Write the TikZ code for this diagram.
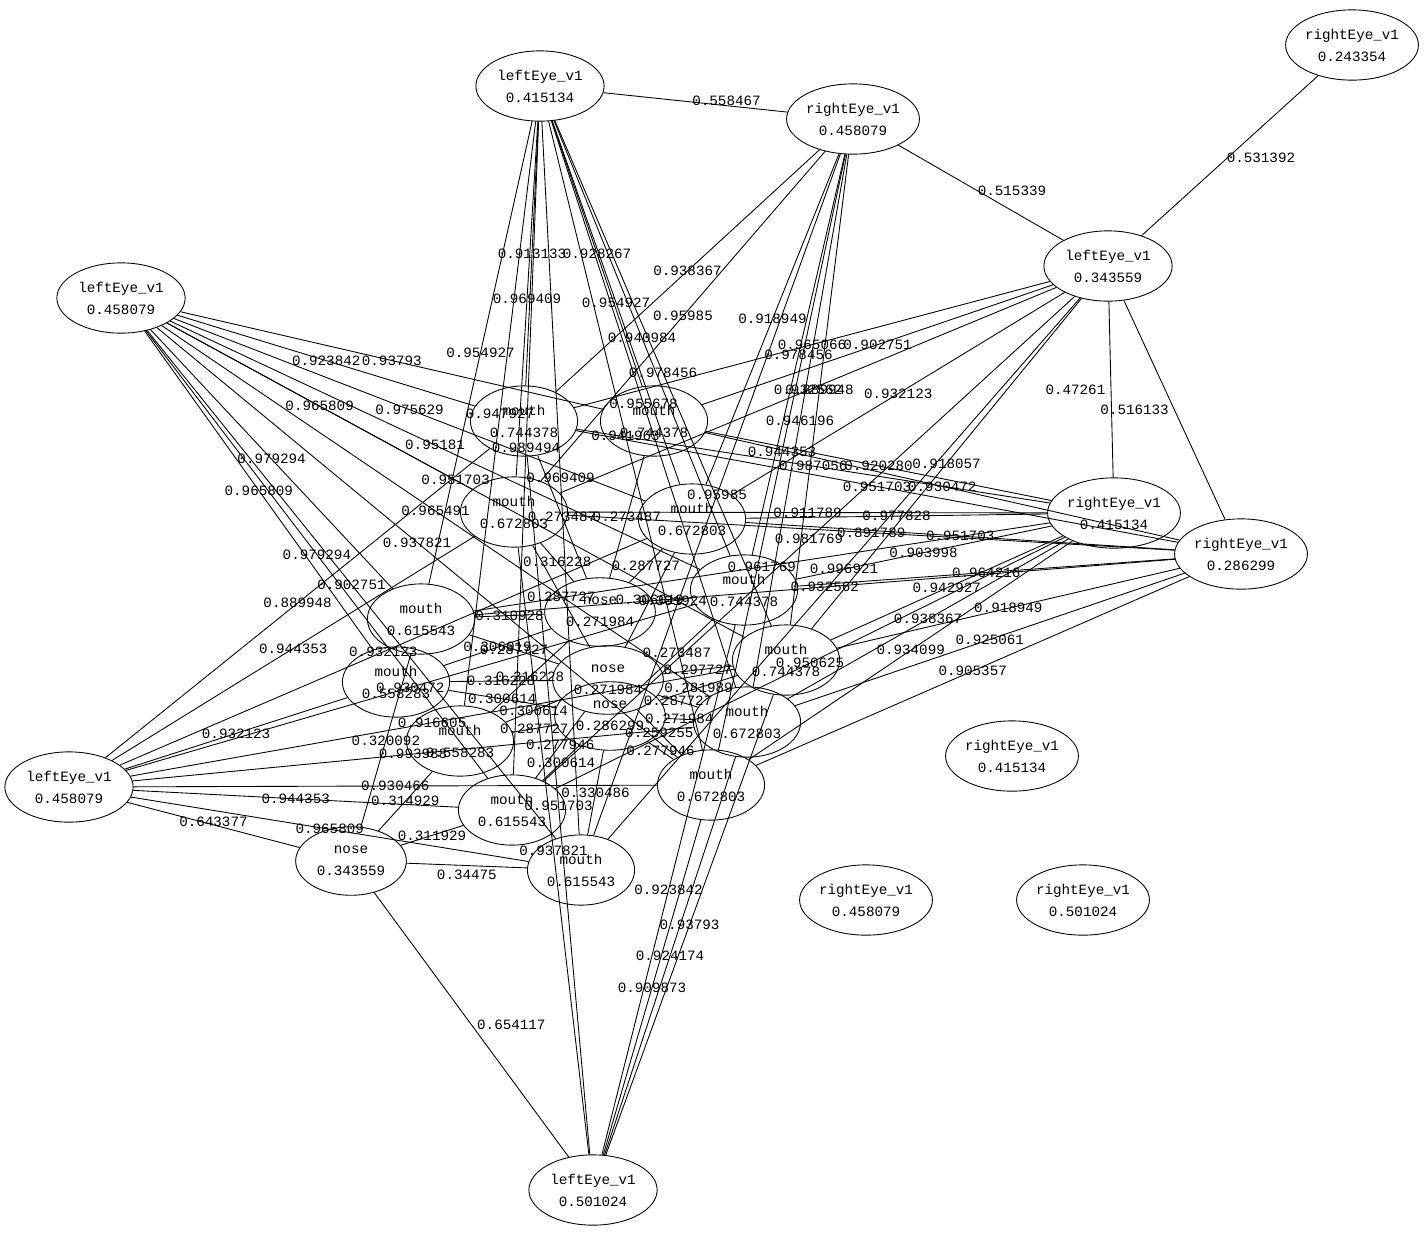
\documentclass[tikz,border=0pt]{standalone}
\usepackage{fontspec}
\setmonofont{Liberation Mono}
\usetikzlibrary{shapes.geometric}
\tikzset{
  txt/.style={font=\ttfamily\fontsize{8.1}{12.5}\selectfont},
  eye/.style={txt, ellipse, draw, align=center, inner sep=0pt, minimum width=73pt, minimum height=40pt},
  mth/.style={txt, ellipse, draw, align=center, inner sep=0pt, minimum width=61pt, minimum height=40pt},
  nse/.style={txt, ellipse, draw, align=center, inner sep=0pt, minimum width=63pt, minimum height=39pt},
  wt/.style={txt, inner sep=1pt},
  edge/.style={line width=0.5pt}
}
\begin{document}
\begin{tikzpicture}[x=0.02cm, y=-0.02cm, every path/.style={edge}]
\useasboundingbox (0,0) rectangle (1425,1232);
% eyes
\node[eye] (le1) at (540,86) {leftEye\_v1\\0.415134};
\node[eye] (re1) at (853,119) {rightEye\_v1\\0.458079};
\node[eye] (re2) at (1352,45) {rightEye\_v1\\0.243354};
\node[eye] (le2) at (1108,266) {leftEye\_v1\\0.343559};
\node[eye] (le3) at (121,298) {leftEye\_v1\\0.458079};
\node[eye] (re3) at (1114,513) {rightEye\_v1\\0.415134};
\node[eye] (re4) at (1241,554) {rightEye\_v1\\0.286299};
\node[eye] (le4) at (69,787) {leftEye\_v1\\0.458079};
\node[eye] (re5) at (1012,756) {rightEye\_v1\\0.415134};
\node[eye] (re6) at (866,900) {rightEye\_v1\\0.458079};
\node[eye] (re7) at (1083,900) {rightEye\_v1\\0.501024};
\node[eye] (le5) at (593,1190) {leftEye\_v1\\0.501024};
% noses
\node[nse] (n1) at (351,861) {nose\\0.343559};
\node[nse] (n2) at (600,612) {nose\\0.271984};
\node[nse] (n3) at (608,680) {nose\\0.271984};
\node[nse] (n4) at (610,716) {nose\\0.286299};
% mouths
\node[mth] (m1) at (524,421) {mouth\\0.744378};
\node[mth] (m2) at (654,421) {mouth\\0.744378};
\node[mth] (m3) at (514,512) {mouth\\0.672803};
\node[mth] (m4) at (692,519) {mouth\\0.672803};
\node[mth] (m5) at (744,590) {mouth\\0.744378};
\node[mth] (m6) at (421,619) {mouth\\0.615543};
\node[mth] (m7) at (396,682) {mouth\\0.558283};
\node[mth] (m8) at (786,660) {mouth\\0.744378};
\node[mth] (m9) at (460,741) {mouth\\0.558283};
\node[mth] (m10) at (747,722) {mouth\\0.672803};
\node[mth] (m11) at (711,785) {mouth\\0.672803};
\node[mth] (m12) at (512,810) {mouth\\0.615543};
\node[mth] (m13) at (581,870) {mouth\\0.615543};

% eye to eye, eye to nose
\draw (le1) -- (re1) node[wt,midway,above right=-3pt]{0.558467};
\draw (re1) -- (le2) node[wt,midway,above right=-3pt]{0.515339};
\draw (re2) -- (le2) node[wt,midway,below right=-3pt]{0.531392};
\draw (le2) -- (re3) node[wt,midway,left=2pt]{0.47261};
\draw (le2) -- (re4) node[wt,midway,left=2pt]{0.516133};
\draw (le4) -- (n1) node[wt,midway,above=-2pt]{0.643377};
\draw (n1) -- (le5) node[wt,midway,right=2pt]{0.654117};
\draw (n1) -- (m13) node[wt,midway,below=1pt]{0.34475};

% leftEye 0.458079 (upper left)
\draw (le3) -- (m1) node[wt,midway]{0.923842};
\draw (le3) -- (m2) node[wt,midway]{0.93793};
\draw (le3) -- (m4) node[wt,midway]{0.975629};
\draw (le3) -- (m3) node[wt,midway]{0.965809};
\draw (le3) -- (m5) node[wt,midway]{0.95181};
\draw (le3) -- (m6) node[wt,midway]{0.979294};
\draw (le3) -- (m7) node[wt,midway]{0.965809};
\draw (le3) -- (m8) node[wt,midway]{0.951703};
\draw (le3) -- (m10) node[wt,midway]{0.965491};
\draw (le3) -- (m11) node[wt,midway]{0.937821};
\draw (le3) -- (m12) node[wt,midway]{0.979294};
\draw (le3) -- (m13) node[wt,midway]{0.902751};

% leftEye 0.458079 (lower left)
\draw (le4) -- (m1) node[wt,midway]{0.889948};
\draw (le4) -- (m3) node[wt,midway]{0.944353};
\draw (le4) -- (m4) node[wt,midway]{0.932123};
\draw (le4) -- (m7) node[wt,midway]{0.932123};
\draw (le4) -- (m12) node[wt,midway]{0.944353};
\draw (le4) -- (m13) node[wt,midway]{0.965809};
\draw (le4) -- (m11) node[wt,midway]{0.930466};
\draw (le4) -- (m10) node[wt,midway]{0.993988};
\draw (le4) -- (m8) node[wt,midway]{0.916605};
\draw (le4) -- (m5) node[wt,midway]{0.930472};

% leftEye 0.415134 (top)
\draw (le1) -- (m2) node[wt,midway]{0.928267};
\draw (le1) -- (m1) node[wt,midway]{0.913133};
\draw (le1) -- (m3) node[wt,midway]{0.969409};
\draw (le1) -- (m6) node[wt,midway]{0.954927};
\draw (le1) -- (m4) node[wt,midway]{0.954927};
\draw (le1) -- (m5) node[wt,midway]{0.940984};
\draw (le1) -- (m8) node[wt,midway]{0.978456};
\draw (le1) -- (m10) node[wt,midway]{0.955678};
\draw (le1) -- (m11) node[wt,midway]{0.941963};
\draw (le1) -- (m9) node[wt,midway]{0.947927};
\draw (le1) -- (m13) node[wt,midway]{0.969409};
\draw (le1) -- (m12) node[wt,midway]{0.989494};

% rightEye 0.458079 (top)
\draw (re1) -- (m1) node[wt,midway]{0.938367};
\draw (re1) -- (m3) node[wt,midway]{0.95985};
\draw (re1) -- (m4) node[wt,midway]{0.918949};
\draw (re1) -- (m5) node[wt,midway]{0.978456};
\draw (re1) -- (m8) node[wt,midway]{0.889948};
\draw (re1) -- (m10) node[wt,midway]{0.946196};
\draw (re1) -- (m11) node[wt,midway]{0.944353};
\draw (re1) -- (m13) node[wt,midway]{0.95985};

% leftEye 0.343559
\draw (le2) -- (m2) node[wt,midway]{0.902751};
\draw (le2) -- (m1) node[wt,midway]{0.965066};
\draw (le2) -- (m4) node[wt,midway]{0.932123};
\draw (le2) -- (m3) node[wt,midway]{0.932562};
\draw (le2) -- (m8) node[wt,midway]{0.918057};
\draw (le2) -- (m12) node[wt,midway]{0.981769};
\draw (le2) -- (m13) node[wt,midway]{0.996921};

% rightEye 0.415134
\draw (re3) -- (m1) node[wt,midway]{0.987056};
\draw (re3) -- (m2) node[wt,midway]{0.920280};
\draw (re3) -- (m3) node[wt,midway]{0.911789};
\draw (re3) -- (m6) node[wt,midway]{0.961769};
\draw (re3) -- (m4) node[wt,midway]{0.977828};
\draw (re3) -- (m5) node[wt,midway]{0.903998};
\draw (re3) -- (m8) node[wt,midway]{0.942927};
\draw (re3) -- (m10) node[wt,midway]{0.938367};
\draw (re3) -- (m11) node[wt,midway]{0.934099};
\draw (re3) -- (m12) node[wt,midway]{0.950625};

% rightEye 0.286299
\draw (re4) -- (m1) node[wt,midway]{0.951703};
\draw (re4) -- (m2) node[wt,midway]{0.930472};
\draw (re4) -- (m3) node[wt,midway]{0.891789};
\draw (re4) -- (m4) node[wt,midway]{0.951703};
\draw (re4) -- (m6) node[wt,midway]{0.932562};
\draw (re4) -- (m5) node[wt,midway]{0.964216};
\draw (re4) -- (m8) node[wt,midway]{0.918949};
\draw (re4) -- (m10) node[wt,midway]{0.925061};
\draw (re4) -- (m11) node[wt,midway]{0.905357};

% leftEye 0.501024 (bottom)
\draw (le5) -- (m5) node[wt,midway]{0.923842};
\draw (le5) -- (m8) node[wt,midway]{0.93793};
\draw (le5) -- (m10) node[wt,midway]{0.924174};
\draw (le5) -- (m11) node[wt,midway]{0.909873};
\draw (le5) -- (m1) node[wt,midway]{0.951703};
\draw (le5) -- (m3) node[wt,midway]{0.937821};

% nose to mouth
\draw (n2) -- (m1) node[wt,midway]{0.273487};
\draw (n2) -- (m2) node[wt,midway]{0.273487};
\draw (n2) -- (m3) node[wt,midway]{0.316228};
\draw (n2) -- (m4) node[wt,midway]{0.287727};
\draw (n2) -- (m5) node[wt,midway]{0.301924};
\draw (n2) -- (m6) node[wt,midway]{0.310928};
\draw (n2) -- (m7) node[wt,midway]{0.306019};
\draw (n2) -- (m9) node[wt,midway]{0.316228};
\draw (n3) -- (m3) node[wt,midway]{0.287727};
\draw (n3) -- (m4) node[wt,midway]{0.306019};
\draw (n3) -- (m6) node[wt,midway]{0.287727};
\draw (n3) -- (m7) node[wt,midway]{0.316228};
\draw (n3) -- (m8) node[wt,midway]{0.297727};
\draw (n3) -- (m9) node[wt,midway]{0.300614};
\draw (n3) -- (m10) node[wt,midway]{0.287727};
\draw (n3) -- (m11) node[wt,midway]{0.259255};
\draw (n3) -- (m12) node[wt,midway]{0.277946};
\draw (n4) -- (m5) node[wt,midway]{0.273487};
\draw (n4) -- (m7) node[wt,midway]{0.300614};
\draw (n4) -- (m8) node[wt,midway]{0.281989};
\draw (n4) -- (m9) node[wt,midway]{0.287727};
\draw (n4) -- (m10) node[wt,midway]{0.271984};
\draw (n4) -- (m11) node[wt,midway]{0.277946};
\draw (n4) -- (m12) node[wt,midway]{0.300614};
\draw (n4) -- (m13) node[wt,midway]{0.330486};
\draw (n1) -- (m6) node[wt,midway]{0.320092};
\draw (n1) -- (m12) node[wt,midway]{0.311929};
\draw (n1) -- (m9) node[wt,midway]{0.314929};
\end{tikzpicture}
\end{document}
